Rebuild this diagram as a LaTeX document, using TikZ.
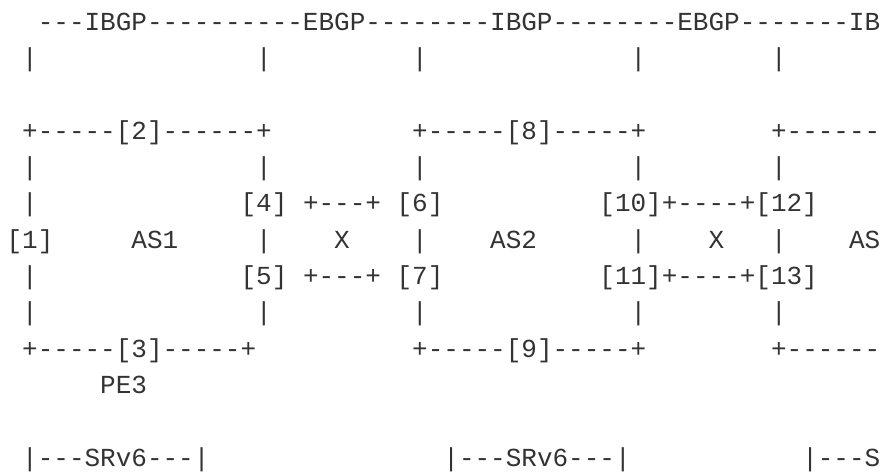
\documentclass[tikz,border=0pt]{standalone}
\usepackage{fontspec}
\setmonofont{Liberation Mono}
\newlength\cwd
\setlength\cwd{7.8pt}
\newcommand\gap[1]{\hspace*{#1\cwd}}
\definecolor{ink}{HTML}{333333}
\begin{document}
\begin{tikzpicture}[x=0.5pt,y=-0.5pt,
  txt/.style={anchor=base west,inner sep=0pt,outer sep=0pt,
    font=\ttfamily\fontsize{13}{15.6}\selectfont,text=ink}]
\useasboundingbox (0,0) rectangle (884,473);
\node[txt] (l1)  at ({6.6+15.6*2},30)     {---IBGP----------EBGP--------IBGP--------EBGP-------IB};
\node[txt] (l2)  at ({6.6+15.6*1},66.36)  {|\gap{14}|\gap{9}|\gap{13}|\gap{8}|};
\node[txt] (l4)  at ({6.6+15.6*1},139.1)  {+-----[2]------+\gap{9}+-----[8]-----+\gap{8}+------};
\node[txt] (l5)  at ({6.6+15.6*1},175.4)  {|\gap{14}|\gap{9}|\gap{13}|\gap{8}|};
\node[txt] (l6)  at ({6.6+15.6*1},211.8)  {|\gap{13}[4]\gap{1}+---+\gap{1}[6]\gap{10}[10]+----+[12]};
\node[txt] (l7)  at ({6.6+15.6*0},248.2)  {[1]\gap{5}AS1\gap{5}|\gap{4}X\gap{4}|\gap{4}AS2\gap{6}|\gap{4}X\gap{3}|\gap{4}AS};
\node[txt] (l8)  at ({6.6+15.6*1},284.5)  {|\gap{13}[5]\gap{1}+---+\gap{1}[7]\gap{10}[11]+----+[13]};
\node[txt] (l9)  at ({6.6+15.6*1},320.9)  {|\gap{14}|\gap{9}|\gap{13}|\gap{8}|};
\node[txt] (l10) at ({6.6+15.6*1},357.2)  {+-----[3]-----+\gap{10}+-----[9]-----+\gap{8}+------};
\node[txt] (l11) at ({6.6+15.6*6},393.6)  {PE3};
\node[txt] (l13) at ({6.6+15.6*1},466.3)  {|---SRv6---|\gap{15}|---SRv6---|\gap{11}|---S};
\end{tikzpicture}
\end{document}
